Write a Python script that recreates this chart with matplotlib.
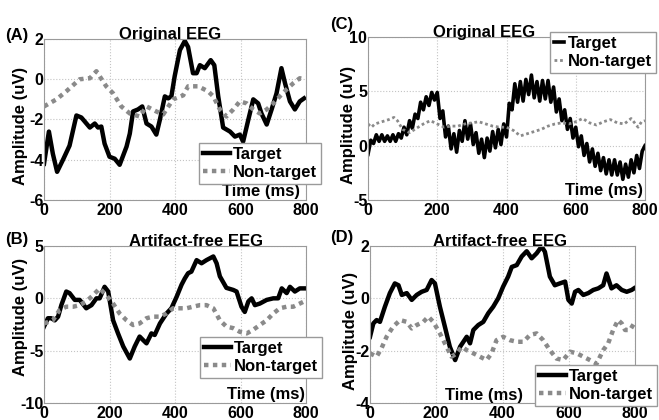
import numpy as np
import matplotlib
matplotlib.use("Agg")
import matplotlib.pyplot as plt

plt.rcParams['font.family'] = ['Liberation Sans', 'DejaVu Sans']
plt.rcParams['font.weight'] = 'bold'
plt.rcParams['axes.unicode_minus'] = False

# (A) original EEG
a_t_time = [0, 15, 27, 40, 58, 78, 99, 114, 140, 155, 165, 175, 185, 200, 216, 231, 252, 262, 272, 287, 300, 313,
            328, 343, 354, 369, 379, 389, 399, 415, 430, 440, 455, 466, 476, 491, 509, 520, 532, 547, 568, 583,
            598, 608, 624, 639, 654, 664, 680, 695, 710, 725, 736, 751, 766, 781, 794]
a_target = [-4.2, -2.6, -3.7, -4.6, -4.0, -3.3, -1.8, -1.9, -2.4, -2.2, -2.4, -2.35, -3.2, -3.85, -3.95, -4.25,
            -3.35, -2.7, -1.6, -1.5, -1.35, -2.2, -2.35, -2.75, -2.0, -0.85, -0.95, -0.85, 0.15, 1.45, 1.9, 1.6,
            0.3, 0.3, 0.7, 0.55, 0.95, 0.7, -0.85, -2.4, -2.6, -2.85, -2.75, -3.1, -2.0, -1.0, -1.2, -1.7, -2.25,
            -1.5, -0.7, 0.55, -0.2, -1.1, -1.5, -1.1, -0.95]
a_n_time = [0, 38, 68, 109, 140, 160, 190, 211, 236, 262, 292, 313, 343, 364, 394, 425, 440, 471, 501, 517, 537,
            557, 578, 598, 619, 639, 659, 680, 700, 720, 741, 761, 781, 794]
a_nontarget = [-1.35, -1.0, -0.6, 0.0, 0.05, 0.4, -0.35, -0.7, -1.35, -1.7, -1.85, -1.35, -1.6, -1.75, -1.0, -0.8,
               -0.35, -0.35, -0.6, -0.85, -1.5, -1.85, -1.5, -1.1, -1.2, -1.5, -1.7, -1.5, -1.2, -0.85, -0.5,
               -0.2, 0.05, 0.0]

# (B) artifact-free EEG
b_t_time = [0, 12, 22, 33, 43, 53, 68, 78, 94, 109, 129, 145, 160, 170, 185, 196, 211, 226, 242, 262, 277, 292,
            303, 313, 328, 338, 354, 374, 389, 405, 420, 430, 440, 450, 466, 481, 496, 517, 527, 537, 557, 578,
            588, 603, 613, 624, 634, 644, 659, 680, 700, 715, 726, 741, 751, 766, 781, 794]
b_target = [-2.7, -1.9, -1.9, -2.1, -1.75, -0.65, 0.65, 0.5, -0.15, -0.15, -0.95, -0.65, 0.0, 0.0, 1.1, 0.65,
            -2.1, -3.35, -4.6, -5.75, -4.6, -3.65, -4.0, -4.3, -3.35, -3.5, -2.4, -1.45, -0.95, 0.15, 1.3, 1.9,
            2.4, 2.55, 3.65, 3.35, 3.65, 4.0, 3.35, 2.1, 1.0, 0.8, 0.65, -0.8, -1.3, -0.3, 0.0, -0.65, -0.5,
            -0.15, 0.0, 0.0, 0.95, 0.5, 1.1, 0.65, 0.95, 0.95]
b_n_time = [0, 27, 48, 68, 89, 109, 129, 150, 170, 190, 211, 231, 252, 272, 292, 313, 333, 354, 374, 394, 415,
            435, 455, 476, 496, 517, 537, 557, 578, 598, 619, 639, 659, 680, 700, 720, 741, 761, 781, 794]
b_nontarget = [-2.4, -2.1, -1.1, -0.8, -0.8, -0.65, -0.3, 0.3, 0.95, 0.3, -0.5, -1.45, -2.1, -2.55, -2.4, -1.9,
               -1.75, -1.75, -1.45, -0.95, -0.95, -0.95, -0.8, -0.65, -0.65, -0.95, -2.1, -2.7, -2.85, -3.2,
               -3.35, -3.0, -2.55, -2.1, -1.45, -0.95, -0.8, -0.8, -0.5, -0.3]

# (C) original EEG, noisy target (one value every 8 ms)
c_t_time = np.linspace(0, 800, 101)
c_target = [-0.8, 0.5, 0.2, 1.0, 0.4, 1.0, 0.4, 0.9, 0.4, 1.0, 0.4, 1.1, 0.7, 1.7, 1.0, 2.3, 1.6, 2.9, 2.5, 4.0,
            3.3, 4.5, 3.7, 4.9, 4.2, 4.9, 2.5, 3.2, 0.8, 1.8, -0.3, 1.1, -0.6, 1.4, 0.4, 2.3, 0.6, 2.0, 0.1, 1.2,
            -0.7, 0.6, -1.1, 0.7, -0.5, 1.3, -0.2, 1.5, 0.1, 2.0, 0.8, 3.9, 3.3, 5.7, 4.0, 5.9, 4.1, 6.1, 4.7, 6.5,
            4.4, 5.9, 4.1, 6.0, 4.3, 6.0, 4.0, 5.4, 3.1, 4.3, 2.3, 3.3, 1.5, 2.5, 0.7, 1.7, -0.1, 0.9, -0.9, 0.2,
            -1.5, -0.3, -1.9, -0.7, -2.3, -1.1, -2.6, -1.3, -2.7, -1.3, -2.7, -1.5, -3.1, -1.7, -2.9, -1.3, -2.5,
            -0.9, -2.1, -0.5, 0.0]
c_n_time = [0, 10, 20, 40, 60, 75, 85, 100, 120, 140, 160, 180, 200, 220, 240, 260, 280, 300, 320, 340, 360,
            380, 400, 420, 440, 460, 480, 500, 520, 540, 560, 580, 600, 620, 640, 660, 680, 700, 720, 740, 760,
            780, 790, 800]
c_nontarget = [2.0, 1.7, 2.0, 2.2, 2.4, 2.6, 2.3, 1.5, 1.2, 1.6, 2.0, 2.3, 2.0, 1.7, 1.8, 1.8, 2.0, 2.1, 2.2,
               2.0, 1.8, 1.7, 1.7, 1.4, 0.9, 1.1, 1.3, 1.5, 1.8, 2.0, 2.1, 2.0, 2.2, 2.5, 2.1, 1.9, 2.2, 2.4,
               2.1, 2.0, 2.5, 1.7, 2.2, 2.3]

# (D) artifact-free EEG
d_t_time = [0, 10, 20, 30, 45, 60, 75, 86, 96, 111, 126, 141, 156, 171, 186, 196, 211, 226, 241, 257, 272, 282,
            292, 302, 312, 327, 342, 357, 372, 387, 402, 417, 428, 443, 458, 473, 488, 503, 518, 528, 543, 558,
            573, 589, 599, 609, 619, 629, 644, 659, 674, 689, 704, 714, 729, 744, 760, 775, 790, 797]
d_target = [-1.47, -0.96, -0.83, -0.9, -0.32, 0.2, 0.57, 0.5, 0.13, 0.2, -0.06, 0.13, 0.25, 0.32, 0.7, 0.57,
            -0.32, -1.08, -1.85, -2.36, -1.85, -1.66, -1.47, -1.72, -1.21, -1.02, -0.9, -0.57, -0.32, 0.0, 0.45,
            0.83, 1.2, 1.27, 1.6, 1.8, 1.53, 1.72, 1.98, 1.78, 0.83, 0.5, 0.57, 0.64, -0.06, -0.2, 0.25, 0.32,
            0.13, 0.2, 0.32, 0.38, 0.5, 0.95, 0.38, 0.5, 0.32, 0.25, 0.32, 0.38]
d_n_time = [0, 20, 35, 50, 70, 91, 111, 126, 141, 161, 176, 191, 211, 226, 246, 262, 277, 292, 312, 332, 352,
            367, 382, 402, 423, 443, 463, 483, 503, 523, 543, 563, 583, 604, 624, 644, 664, 684, 704, 719, 734,
            749, 760, 770, 785, 797]
d_nontarget = [-2.1, -2.23, -1.9, -1.47, -1.08, -0.83, -0.9, -1.15, -1.02, -0.9, -0.7, -0.9, -1.34, -1.72,
               -2.23, -2.1, -1.85, -1.98, -2.1, -2.23, -2.36, -2.1, -1.6, -1.47, -1.6, -1.66, -1.66, -1.4, -1.34,
               -1.6, -1.98, -2.3, -2.36, -2.04, -2.1, -2.23, -2.36, -2.5, -1.98, -1.72, -1.21, -0.83, -0.96,
               -1.21, -1.21, -0.96]

x_ticks = [0, 200, 400, 600, 800]

W, H = 659, 420
fig = plt.figure(figsize=(6.59, 4.2), dpi=100)


def px_axes(l, t, r, b):
    return fig.add_axes([l / W, 1 - b / H, (r - l) / W, (b - t) / H])


panels = [
    dict(tag='(A)', tag_xy=(5, 28), box=(44, 39, 306, 200), tt=a_t_time, tv=a_target, nt=a_n_time, nv=a_nontarget,
         ylim=(-6, 2), yt=[-6, -4, -2, 0, 2], title='Original EEG', tx=0.48, leg=(199, 143), hl=1.6,
         xl=(0.977, 0.005, 'right'), yl=(-0.088, 0.46), lw_t=3.2, lw_n=3.2),
    dict(tag='(B)', tag_xy=(5, 232), box=(44, 246, 306, 403), tt=b_t_time, tv=b_target, nt=b_n_time, nv=b_nontarget,
         ylim=(-10, 5), yt=[-10, -5, 0, 5], title='Artifact-free EEG', tx=0.58, leg=(200, 337), hl=1.6,
         xl=(0.996, 0.005, 'right'), yl=(-0.088, 0.548), lw_t=3.2, lw_n=3.2),
    dict(tag='(C)', tag_xy=(330, 17), box=(368, 37, 645, 200), tt=c_t_time, tv=c_target, nt=c_n_time, nv=c_nontarget,
         ylim=(-5, 10), yt=[-5, 0, 5, 10], title='Original EEG', tx=0.42, leg=(550, 32), hl=0.6,
         xl=(0.993, 0.01, 'right'), yl=(-0.072, 0.46), lw_t=2.6, lw_n=2.0),
    dict(tag='(D)', tag_xy=(330, 230), box=(370, 246, 635, 403), tt=d_t_time, tv=d_target, nt=d_n_time, nv=d_nontarget,
         ylim=(-4, 2), yt=[-4, -2, 0, 2], title='Artifact-free EEG', tx=0.49, leg=(535, 365), hl=1.6,
         xl=(0.43, 0.0, 'center'), yl=(-0.075, 0.459), lw_t=3.2, lw_n=3.2),
]

for p in panels:
    ax = px_axes(*p['box'])
    ax.plot(p['tt'], p['tv'], color='black', lw=p['lw_t'], label='Target', solid_joinstyle='round')
    ax.plot(p['nt'], p['nv'], color='#8a8a8a', lw=p['lw_n'], linestyle=(0, (1, 1)), label='Non-target')
    ax.set_xlim(0, 800)
    ax.set_ylim(*p['ylim'])
    ax.set_xticks(x_ticks)
    ax.set_yticks(p['yt'])
    ax.tick_params(axis='x', length=0, pad=2.5, labelsize=11.5)
    ax.tick_params(axis='y', length=0, pad=0.5, labelsize=11.5)
    for lab in ax.get_xticklabels() + ax.get_yticklabels():
        lab.set_fontweight('bold')
    ax.grid(True, color='#c4c4c4', linestyle=':', lw=0.8)
    for s in ax.spines.values():
        s.set_color('#9a9a9a')
        s.set_linewidth(0.8)
    ax.text(p['tx'], 1.0, p['title'], transform=ax.transAxes, ha='center', va='baseline',
            fontsize=12, fontweight='bold')
    ax.text(p['xl'][0], p['xl'][1], 'Time (ms)', transform=ax.transAxes, ha=p['xl'][2], va='bottom',
            fontsize=12, fontweight='bold')
    ax.text(p['yl'][0], p['yl'][1], 'Amplitude (uV)', transform=ax.transAxes, rotation=90,
            ha='center', va='center', fontsize=12, fontweight='bold')
    fig.text(p['tag_xy'][0] / W, 1 - p['tag_xy'][1] / H, p['tag'], ha='left', va='top',
             fontsize=12, fontweight='bold')
    leg = ax.legend(loc='upper left', bbox_to_anchor=(p['leg'][0] / W, 1 - p['leg'][1] / H),
                    bbox_transform=fig.transFigure, fancybox=False, framealpha=1,
                    edgecolor='#9a9a9a', fontsize=12, handlelength=p['hl'], handletextpad=0.2,
                    borderpad=0.25, labelspacing=0.15, borderaxespad=0)
    leg.get_frame().set_linewidth(1.0)
    for t in leg.get_texts():
        t.set_fontweight('bold')

fig.savefig('out.png', dpi=100)
